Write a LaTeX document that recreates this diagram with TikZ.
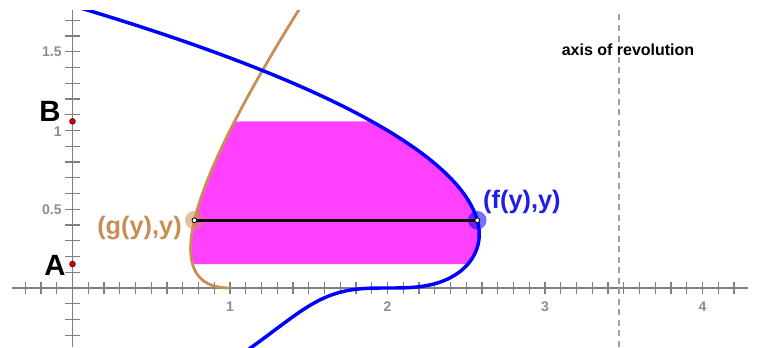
\documentclass[tikz,border=0pt]{standalone}
\usepackage{fontspec}
\setmainfont{Liberation Sans}
\definecolor{fblue}{RGB}{0,0,255}
\definecolor{flabel}{RGB}{30,30,235}
\definecolor{gbrown}{RGB}{200,142,84}
\definecolor{regpink}{RGB}{255,64,255}
\definecolor{axgray}{RGB}{128,128,128}
\definecolor{dashgray}{RGB}{160,160,160}
\definecolor{lblgray}{RGB}{140,140,150}
\definecolor{dotred}{RGB}{220,0,0}
\tikzset{
  axisline/.style={draw=axgray, line width=1pt},
  tickline/.style={draw=axgray, line width=0.85pt},
  revaxis/.style={draw=dashgray, line width=0.95pt, dash pattern=on 4.5pt off 3.4pt},
  fcurve/.style={draw=fblue, line width=2.6pt, line join=round},
  gcurve/.style={draw=gbrown, line width=2.1pt, line join=round},
  chord/.style={draw=black, line width=2.6pt},
  xlab/.style={text=lblgray, font=\bfseries\fontsize{10.5}{12}\selectfont, inner sep=0pt},
  ylab/.style={text=lblgray, font=\bfseries\fontsize{10.5}{12}\selectfont, inner sep=0pt, anchor=east},
  ptlab/.style={font=\bfseries\fontsize{22}{26}\selectfont, inner sep=0pt},
  redpt/.style={circle, fill=dotred, draw=black!70!red, line width=0.4pt, minimum size=4.4pt, inner sep=0pt},
  halo/.style={circle, minimum size=14pt, inner sep=0pt, fill opacity=0.55},
  core/.style={circle, fill=white, draw=black, line width=0.6pt, minimum size=3.6pt, inner sep=0pt}
}
\begin{document}
\begin{tikzpicture}[x=118.125pt,y=118.125pt]
\useasboundingbox (-0.4603,-0.3746) rectangle (4.3651,1.8286);
\begin{scope}
\clip (-0.4603,-0.3746) rectangle (4.3651,1.765);
% region between g and f, from A to B
\fill[regpink]
  plot[domain=0.38987:1.02859, samples=60, variable=\s] ({1-\s+\s*\s},{\s*\s})
  -- plot[domain=1.01897:0.5337, samples=60, variable=\u] ({2+\u-(\u*\u*\u)*(\u*\u*\u)},{\u*\u*\u})
  -- cycle;
% axes
\draw[axisline] (-0.384,0) -- (4.289,0);
\draw[axisline] (0,-0.3746) -- (0,1.765);
\foreach \i in {-3,...,42} \draw[tickline] (\i/10,-0.04) -- (\i/10,0.04);
\foreach \j in {-3,...,17} \draw[tickline] (-0.046,\j/10) -- (0.046,\j/10);
% axis of revolution
\draw[revaxis] (3.47,-0.3746) -- (3.47,1.765);
% curves
\draw[gcurve] plot[domain=0:1.34, samples=120, smooth, variable=\s] ({1-\s+\s*\s},{\s*\s});
\draw[fcurve] plot[domain=-0.73:1.23, samples=200, smooth, variable=\u] ({2+\u-(\u*\u*\u)*(\u*\u*\u)},{\u*\u*\u});
\end{scope}
% tick labels
\node[xlab] (x1) at (1,-0.1206) {1};
\node[xlab] (x2) at (2,-0.1206) {2};
\node[xlab] (x3) at (3,-0.1206) {3};
\node[xlab] (x4) at (4,-0.1206) {4};
\node[ylab] (y05) at (-0.067,0.5) {0.5};
\node[ylab] (y1) at (-0.067,0.99) {1};
\node[ylab] (y15) at (-0.067,1.5) {1.5};
% axis label
\node[font=\bfseries\fontsize{12}{14}\selectfont, inner sep=0pt] (axlab) at (3.527,1.511) {axis of revolution};
% A and B
\node[redpt] (Apt) at (0,0.152) {};
\node[redpt] (Bpt) at (0,1.058) {};
\node[ptlab] (Alab) at (-0.111,0.146) {A};
\node[ptlab] (Blab) at (-0.143,1.119) {B};
% chord and its end points
\coordinate (gpt) at (0.77426,0.43);
\coordinate (fpt) at (2.5699,0.43);
\node[halo, fill=gbrown] (ghalo) at (gpt) {};
\node[halo, fill=fblue] (fhalo) at (fpt) {};
\draw[chord] (gpt) -- (fpt);
\node[core] (gcore) at (gpt) {};
\node[core] (fcore) at (fpt) {};
\node[text=gbrown, font=\bfseries\fontsize{19}{22}\selectfont, inner sep=0pt, anchor=east] (glab) at (0.695,0.381) {(g(y),y)};
\node[text=flabel, font=\bfseries\fontsize{19}{22}\selectfont, inner sep=0pt, anchor=west] (flab) at (2.606,0.548) {(f(y),y)};
\end{tikzpicture}
\end{document}
